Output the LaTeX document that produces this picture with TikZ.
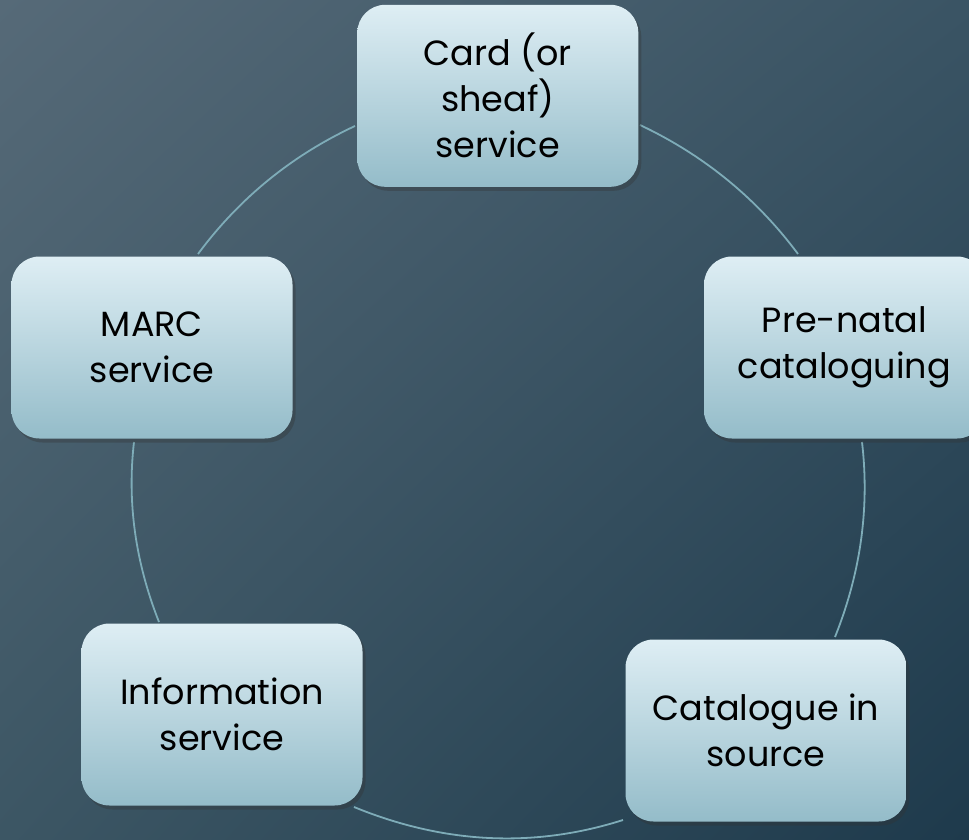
\documentclass[tikz,border=0pt]{standalone}
\usepackage{fontspec}
\setmainfont{Poppins}
\usetikzlibrary{shadows,shadings}
\definecolor{bgUL}{RGB}{86,106,120}
\definecolor{bgUR}{RGB}{58,84,100}
\definecolor{bgLL}{RGB}{60,86,100}
\definecolor{bgLR}{RGB}{30,58,76}
\definecolor{boxtop}{RGB}{222,238,244}
\definecolor{boxbot}{RGB}{148,188,201}
\definecolor{arccol}{RGB}{126,172,184}
\tikzset{
  cyclebox/.style={rounded corners=28pt, minimum width=281pt, minimum height=182pt,
    top color=boxtop, bottom color=boxbot, align=center, text=black,
    font=\fontsize{35}{46}\selectfont, inner sep=0pt,
    drop shadow={shadow xshift=3pt, shadow yshift=-4pt, opacity=0.35, fill=black!80}},
  cyclearc/.style={draw=arccol, line width=1.8pt}
}
\begin{document}
\begin{tikzpicture}[x=1pt, y=-1pt]
\useasboundingbox (0,0) rectangle (969,840);
\shade[upper left=bgUL, upper right=bgUR, lower left=bgLL, lower right=bgLR] (0,0) rectangle (969,840);
% arc endpoints
\coordinate (a1s) at (355,126); \coordinate (a1e) at (198,254);
\coordinate (a2s) at (640,125); \coordinate (a2e) at (798,254);
\coordinate (a3s) at (862,442); \coordinate (a3e) at (835,637);
\coordinate (a4s) at (623,820); \coordinate (a4e) at (354,807);
\coordinate (a5s) at (159,622); \coordinate (a5e) at (134,442);
\draw[cyclearc] (a1s) .. controls (291.6,155.6) and (239.3,198.3) .. (a1e);
\draw[cyclearc] (a2s) .. controls (703.7,155.1) and (756.4,198.1) .. (a2e);
\draw[cyclearc] (a3s) .. controls (869.7,507.7) and (860.7,572.7) .. (a3e);
\draw[cyclearc] (a4s) .. controls (534,848.3) and (444.3,844) .. (a4e);
\draw[cyclearc] (a5s) .. controls (135.3,562) and (127,502) .. (a5e);
% boxes
\node[cyclebox] (card) at (497.8,95.8) {Card (or\\sheaf)\\service};
\node[cyclebox] (prenatal) at (844.5,347.5) {Pre-natal\\cataloguing};
\node[cyclebox] (cis) at (766,730.5) {Catalogue in\\source};
\node[cyclebox] (info) at (222,714.5) {Information\\service};
\node[cyclebox] (marc) at (152,347.5) {MARC\\service};
\end{tikzpicture}
\end{document}
